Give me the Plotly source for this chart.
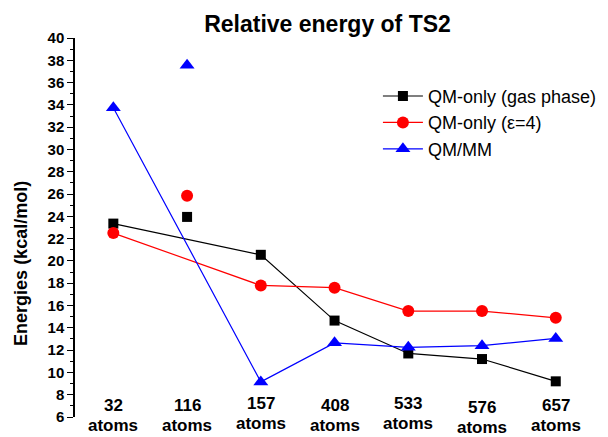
import plotly.graph_objects as go

# ---- data ----
atom_counts = ["32", "116", "157", "408", "533", "576", "657"]
gas_phase = [23.35, 23.95, 20.55, 14.65, 11.7, 11.2, 9.2]
eps4 = [22.5, 25.85, 17.8, 17.6, 15.5, 15.5, 14.9]
qmmm = [33.75, 37.55, 9.15, 12.65, 12.25, 12.4, 13.05]
series_names = ["QM-only (gas phase)", "QM-only (\u03b5=4)", "QM/MM"]

# the 116-atom point is drawn as a stand-alone marker (not joined by the line)
isolated = 1

colors = ["#000000", "#ff0000", "#0000ff"]
symbols = ["square", "circle", "triangle-up"]
msizes = [10, 12, 13]

xpos = list(range(1, len(atom_counts) + 1))
line_idx = [i for i in range(len(atom_counts)) if i != isolated]

fig = go.Figure()
for vals, name, c, s, ms in zip([gas_phase, eps4, qmmm], series_names, colors, symbols, msizes):
    fig.add_trace(go.Scatter(
        x=[xpos[i] for i in line_idx], y=[vals[i] for i in line_idx],
        mode="lines+markers", name=name,
        line=dict(color=c, width=1.2),
        marker=dict(symbol=s, size=ms, color=c),
        cliponaxis=False,
    ))
    fig.add_trace(go.Scatter(
        x=[xpos[isolated]], y=[vals[isolated]], mode="markers", showlegend=False,
        marker=dict(symbol=s, size=ms, color=c), cliponaxis=False,
    ))

FONT = "Arial, Liberation Sans, sans-serif"
label_font = dict(family=FONT, size=17, color="black")
num_shift = [0, 0, 2, 0, 2, -2, 0]
for x, lab, sh in zip(xpos, atom_counts, num_shift):
    fig.add_annotation(x=x, y=0.030, xref="x", yref="paper", text="<b>%s</b>" % lab,
                       showarrow=False, font=label_font, yanchor="middle", yshift=sh)
    fig.add_annotation(x=x, y=-0.022, xref="x", yref="paper", text="<b>atoms</b>",
                       showarrow=False, font=label_font, yanchor="middle", yshift=sh)

# y-axis title
fig.add_annotation(x=-0.104, y=0.405, xref="paper", yref="paper",
                   text="<b>Energies (kcal/mol)</b>", textangle=-90, showarrow=False,
                   font=dict(family=FONT, size=18, color="black"),
                   xanchor="center", yanchor="middle")

fig.update_layout(
    width=600, height=429, autosize=False,
    margin=dict(l=67, r=8, t=30, b=20, autoexpand=False),
    plot_bgcolor="white", paper_bgcolor="white",
    font=dict(family=FONT, color="black"),
    title=dict(text="<b>Relative energy of TS2</b>", x=0.5325, xref="container",
               y=0.9634, yref="container", xanchor="center", yanchor="middle",
               font=dict(size=23)),
    xaxis=dict(visible=False, range=[0.48, 7.6]),
    yaxis=dict(range=[6, 40], dtick=2, tick0=6, showgrid=False, zeroline=False,
               automargin=False,
               showline=True, linecolor="black", linewidth=1.5,
               ticks="outside", ticklen=6, tickwidth=1.2, tickcolor="black",
               minor=dict(ticks="outside", ticklen=3, dtick=1, tickcolor="black", tickwidth=1.2),
               tickfont=dict(size=15, family=FONT),
               tickprefix="<b>", ticksuffix="</b>"),
    legend=dict(x=0.577, y=0.895, xanchor="left", yanchor="top",
                font=dict(size=18), bgcolor="rgba(0,0,0,0)", tracegroupgap=0,
                itemwidth=40),
    showlegend=True,
)

fig.write_html("out.html")
